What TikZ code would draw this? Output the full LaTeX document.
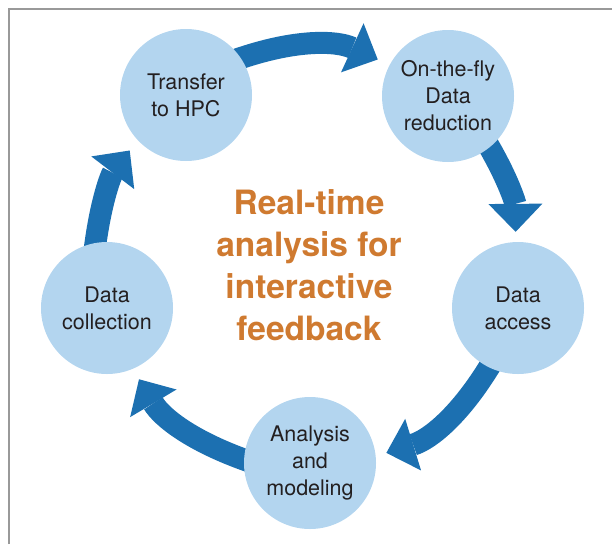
\documentclass[tikz,border=0pt]{standalone}
\usepackage{fontspec}
\setmainfont{TeX Gyre Heros}
\usepackage{tikz}
\usetikzlibrary{
        arrows.meta,
        backgrounds,
        positioning
    }
\definecolor{bubble}{HTML}{B3D5EF}
\definecolor{flowblue}{HTML}{1C70B1}
\definecolor{titleorange}{HTML}{CF7A30}
\definecolor{inktext}{HTML}{231F20}
\tikzset{x=1pt,y=-1pt}
\tikzset{stage/.style={circle,fill=bubble,minimum size=132pt,inner sep=0pt,align=center,
        text=inktext,font=\fontsize{21.5}{27}\selectfont}}
\tikzset{flow/.style={color=flowblue,line width=22pt,shorten <=-6pt,
        -{Triangle[length=28pt,width=54pt,line width=0pt,color=flowblue,fill=flowblue]}}}

\begin{document}
\begin{tikzpicture}
            \useasboundingbox (0,0) rectangle (612,544);
            \draw[black!40,line width=1.2pt] (9,544) -- (9,9) -- (612,9);

            \node[stage] (trans) at (186,95)  {Transfer\\to HPC};
            \node[stage] (otf)   at (448,96)  {On-the-fly\\Data\\reduction};
            \node[stage] (acc)   at (518,308) {Data\\access};
            \node[stage] (ana)   at (310,463) {Analysis\\and\\modeling};
            \node[stage] (col)   at (107,308) {Data\\collection};

            \node[align=center,text=titleorange,
                  font=\fontsize{33.5}{42}\selectfont\bfseries] (title) at (309,265)
                  {Real-time\\analysis for\\interactive\\feedback};

            % the cycle, behind the circles
            \begin{scope}[on background layer]
            \path[flow]
                (trans.34)  edge[flow,bend left=22,shorten >=13pt] (otf.152)
                (otf.-51)   edge[flow,bend left=15,shorten >=10pt] (acc.92)
                (acc.-116)  edge[flow,bend left=21,shorten >=11pt] (ana.6)
                (ana.177)   edge[flow,bend left=20,shorten >=12pt] (col.-67)
                (col.100)   edge[flow,bend left=15,shorten >=13pt] (trans.-137)
                ;
            \end{scope}
        \end{tikzpicture}
\end{document}
